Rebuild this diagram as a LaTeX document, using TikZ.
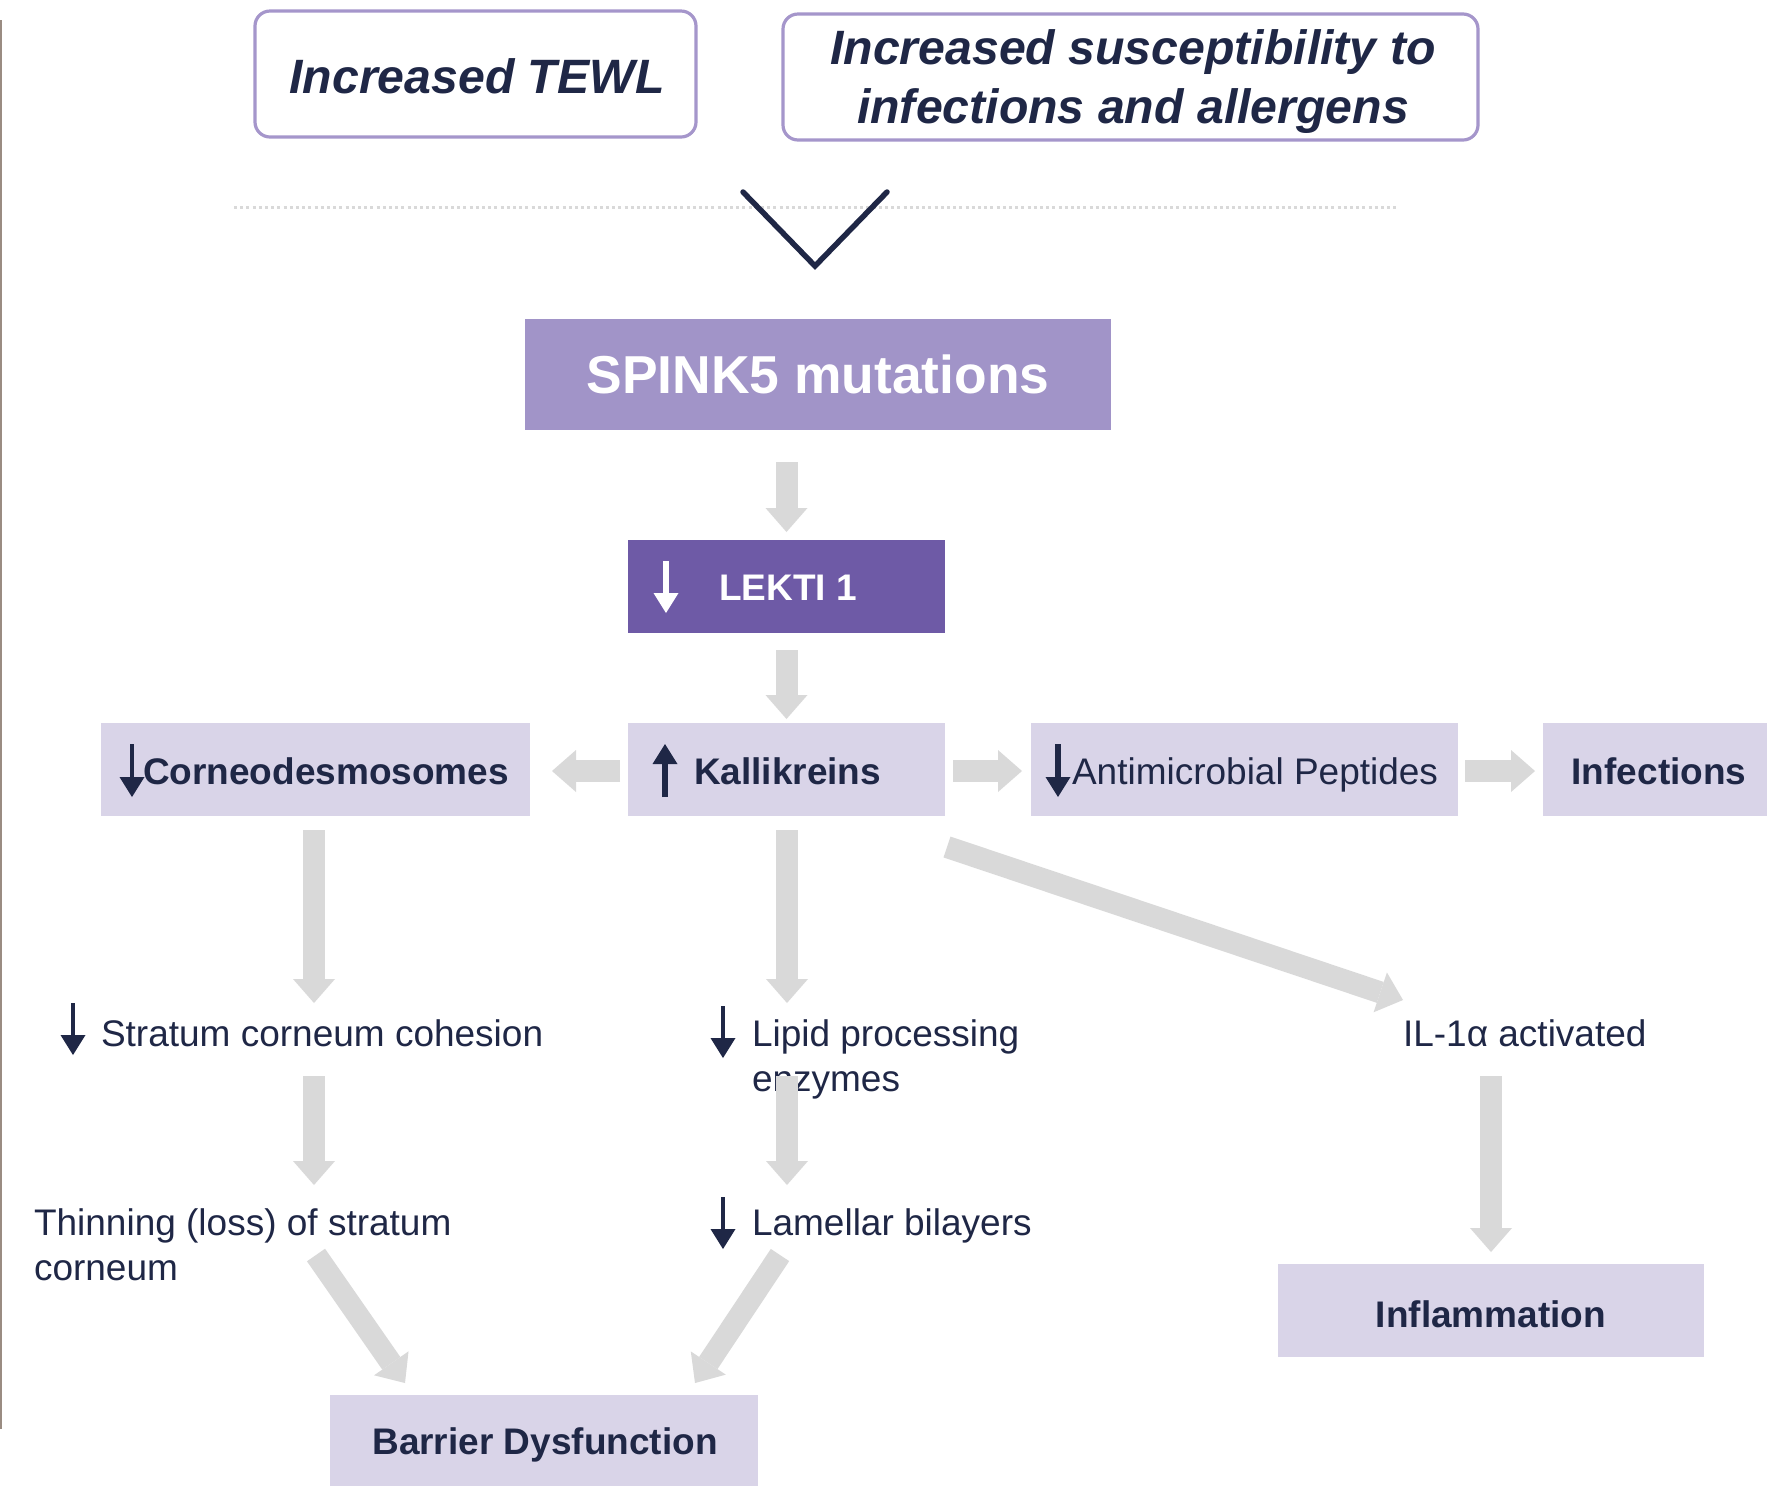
\documentclass[tikz,border=0pt]{standalone}
\usepackage{fontspec}
\setmainfont{Liberation Sans}
\usetikzlibrary{arrows.meta,calc}
\definecolor{navy}{HTML}{1F2746}
\definecolor{lav}{HTML}{D9D4E8}
\definecolor{spk}{HTML}{A194C8}
\definecolor{lek}{HTML}{6E5AA6}
\definecolor{bord}{HTML}{A596CB}
\definecolor{garr}{HTML}{D9D9D9}
\definecolor{edgec}{HTML}{9A8C82}
\begin{document}
\begin{tikzpicture}[x=0.5pt,y=-0.5pt,
  every node/.style={inner sep=0pt, outer sep=0pt, text=navy},
  topbox/.style={draw=bord, line width=1.6pt, rounded corners=7.5pt, fill=white, minimum height=63pt},
  toptext/.style={align=center, font=\fontsize{24.1}{29.5}\selectfont\bfseries\itshape},
  lbox/.style={fill=lav, minimum height=46.5pt},
  lbl/.style={font=\fontsize{18.5}{22.5}\selectfont\bfseries},
  txt/.style={font=\fontsize{18.5}{22.5}\selectfont, align=left},
  garrow/.style={color=garr, line width=11pt, -{Triangle[width=21pt,length=12pt,line width=0pt]}},
  darrow/.style={color=navy, line width=2pt, -{Triangle[width=12.5pt,length=10pt,line width=0pt]}},
]
\useasboundingbox (0,0) rectangle (1767,1485);
\fill[white] (0,0) rectangle (1767,1485);
% left edge line
\coordinate (e1) at (1,20);
\coordinate (e2) at (1,1429);
\draw[edgec, line width=1pt] (e1) -- (e2);

% top boxes
\node[topbox, minimum width=220.5pt] (tewl) at (475.5,74) {};
\node[toptext] (tewlt) at (477,76) {Increased TEWL};
\node[topbox, minimum width=347.5pt] (susc) at (1130.5,77) {};
\node[toptext] (susct) at (1133,82) {Increased susceptibility to\\infections and allergens};

% dotted line and chevron
\coordinate (dotL) at (234,207);
\coordinate (dotR) at (1397,207);
\draw[garr, line width=1.5pt, dash pattern=on 1.5pt off 1.6pt] (dotL) -- (dotR);
\coordinate (chevL) at (743,192);
\coordinate (chevB) at (815,266);
\coordinate (chevR) at (887,192);
\draw[navy, line width=2.75pt, line cap=round] (chevL) -- (chevB) -- (chevR);

% SPINK5
\node[fill=spk, minimum width=293pt, minimum height=55.5pt, text=white,
  font=\fontsize{26.7}{30}\selectfont\bfseries] (spink) at (818,374.5) {SPINK5 mutations};

% LEKTI
\node[fill=lek, minimum width=158.5pt, minimum height=46.5pt] (lekti) at (786.5,586.5) {};
\node[lbl, text=white, anchor=base west] (lektit) at (719,600) {LEKTI 1};
\coordinate (lw1) at (666,561);
\coordinate (lw2) at (666,613);
\draw[darrow, color=white, line width=2.8pt] (lw1) -- (lw2);

% row of boxes
\node[lbox, minimum width=158.5pt] (kall) at (786.5,769.5) {};
\node[lbl, anchor=base west] (kallt) at (694,784) {Kallikreins};
\coordinate (ku1) at (665,797);
\coordinate (ku2) at (665,744);
\draw[darrow, line width=3.4pt] (ku1) -- (ku2);

\node[lbox, minimum width=214.5pt] (corneo) at (315.5,769.5) {};
\node[lbl, anchor=base west] (corneot) at (143,784) {Corneodesmosomes};
\coordinate (cd1) at (132,744);
\coordinate (cd2) at (132,797);
\draw[darrow] (cd1) -- (cd2);

\node[lbox, minimum width=213.5pt] (anti) at (1244.5,769.5) {};
\node[txt, anchor=base west] (antit) at (1072,784) {Antimicrobial Peptides};
\coordinate (am1) at (1058,744);
\coordinate (am2) at (1058,797);
\draw[darrow, line width=2.6pt] (am1) -- (am2);

\node[lbox, minimum width=112pt] (infect) at (1655,769.5) {};
\node[lbl] (infectt) at (1659,771) {Infections};

% middle texts
\node[txt, anchor=base west] (strat) at (101,1046) {Stratum corneum cohesion};
\coordinate (sa1) at (73,1003);
\coordinate (sa2) at (73,1055);
\draw[darrow, line width=2.4pt] (sa1) -- (sa2);

\node[txt, anchor=base west] (lipid) at (752,1091) {Lipid processing\\enzymes};
\coordinate (la1) at (723,1006);
\coordinate (la2) at (723,1058);
\draw[darrow, line width=2.4pt] (la1) -- (la2);

\node[txt, anchor=base west] (il) at (1403,1046) {IL-1α activated};

\node[txt, anchor=base west] (thin) at (34,1280) {Thinning (loss) of stratum\\corneum};

\node[txt, anchor=base west] (lam) at (752,1235) {Lamellar bilayers};
\coordinate (lb1) at (723,1197);
\coordinate (lb2) at (723,1249);
\draw[darrow, line width=2.4pt] (lb1) -- (lb2);

% bottom boxes
\node[lbox, minimum width=213pt] (inflam) at (1491,1310.5) {};
\node[lbl] (inflamt) at (1491,1314) {Inflammation};
\node[lbox, minimum width=214pt, minimum height=50pt] (barrier) at (544,1445) {};
\node[lbl] (barriert) at (545,1445) {Barrier Dysfunction};

% gray block arrows
\draw[garrow] ($(spink.south -| lekti.north)+(0,32)$) -- ($(lekti.north)+(0,-8)$);
\draw[garrow] ($(lekti.south)+(0,17)$) -- ($(kall.north)+(0,-4)$);
\draw[garrow] ($(kall.west)+(-8,1.5)$) -- ($(corneo.east)+(22,1.5)$);
\draw[garrow] ($(kall.east)+(8,1.5)$) -- ($(anti.west)+(-9,1.5)$);
\draw[garrow] ($(anti.east)+(7,1.5)$) -- ($(infect.west)+(-8,1.5)$);
\coordinate (tStrat) at (314,1003);
\draw[garrow] ($(corneo.south)+(-1.5,14)$) -- (tStrat);
\coordinate (tLipid) at (787,1003);
\draw[garrow] ($(kall.south)+(0.5,14)$) -- (tLipid);
\coordinate (tIL) at (1403,1000);
\draw[garrow] ($(kall.south east)+(2,31)$) -- (tIL);
\coordinate (fStrat) at (314,1076);
\coordinate (tThin) at (314,1185);
\draw[garrow] (fStrat) -- (tThin);
\coordinate (fLipid) at (787,1076);
\coordinate (tLam) at (787,1185);
\draw[garrow] (fLipid) -- (tLam);
\coordinate (fIL) at (1491,1076);
\draw[garrow] (fIL) -- ($(inflam.north)+(0,-12)$);
\coordinate (fThin) at (316,1255);
\draw[garrow] (fThin) -- ($(barrier.north west)+(75,-12)$);
\coordinate (fLam) at (780,1255);
\draw[garrow] (fLam) -- ($(barrier.north west)+(365,-12)$);
\end{tikzpicture}
\end{document}
